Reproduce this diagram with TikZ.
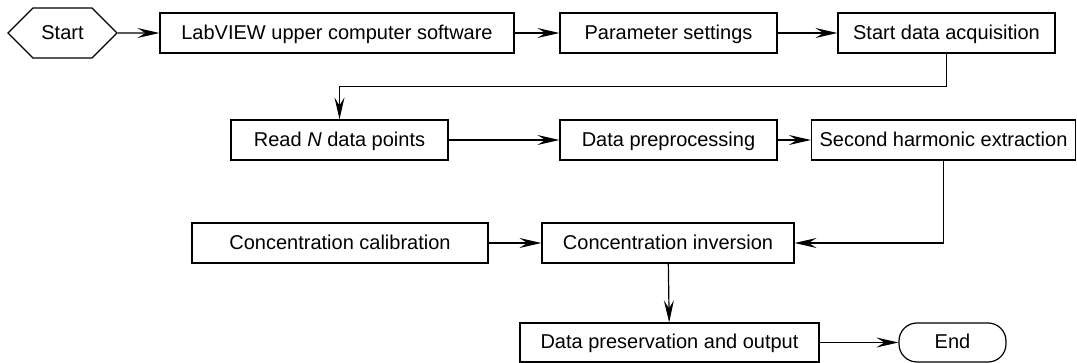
\documentclass[tikz,border=0pt]{standalone}
\usepackage{fontspec}
\setmainfont{Liberation Sans}
\usetikzlibrary{arrows.meta,shapes.symbols}

\tikzset{
  box/.style={draw, line width=1.2pt, minimum height=40pt, inner sep=0pt, text height=17pt, text depth=4pt},
  flow/.style={-{Stealth[length=22pt,width=10pt,inset=8pt]}, line width=1.2pt},
}

\begin{document}
\begin{tikzpicture}[x=1pt, y=-1pt, font=\fontsize{20}{24}\selectfont]
			\useasboundingbox (0,0) rectangle (1077,363);

			\node [draw, line width=1.2pt, signal, signal to=west and east, minimum width=109pt, minimum height=50pt, inner sep=0pt, text height=17pt, text depth=4pt] (start) at (62.5, 33) {Start};
			\node [box, minimum width=354pt] (labview) at (337, 33) {LabVIEW upper computer software};
			\node [box, minimum width=217pt] (param) at (668.5, 33) {Parameter settings};
			\node [box, minimum width=217pt] (acq) at (946.5, 33) {Start data acquisition};

			\node [box, minimum width=217pt] (readn) at (339.5, 140) {Read \textit{N} data points};
			\node [box, minimum width=217pt] (prep) at (668.5, 140) {Data preprocessing};
			\node [box, minimum width=264pt] (harm) at (943.5, 140) {Second harmonic extraction};

			\node [box, minimum width=296pt] (calib) at (340, 243) {Concentration calibration};
			\node [box, minimum width=252pt] (inv) at (668, 243) {Concentration inversion};

			\node [box, minimum width=299pt, minimum height=39pt] (save) at (669.5, 342.5) {Data preservation and output};
			\node [box, rounded corners=18pt, minimum width=107pt, minimum height=39pt] (end) at (952.5, 342.5) {End};

			\draw [flow] (start) to (labview);
			\draw [flow] (labview) to (param);
			\draw [flow] (param) to (acq);
			\draw [flow] (acq.south) -- ++(0, 33) -| (readn.north);
			\draw [flow] (readn) to (prep);
			\draw [flow] (prep) to (harm);
			\draw [flow] (harm.south) |- (inv.east);
			\draw [flow] (calib) to (inv);
			\draw [flow] (inv) to (save);
			\draw [flow] (save) to (end);
		\end{tikzpicture}
\end{document}
